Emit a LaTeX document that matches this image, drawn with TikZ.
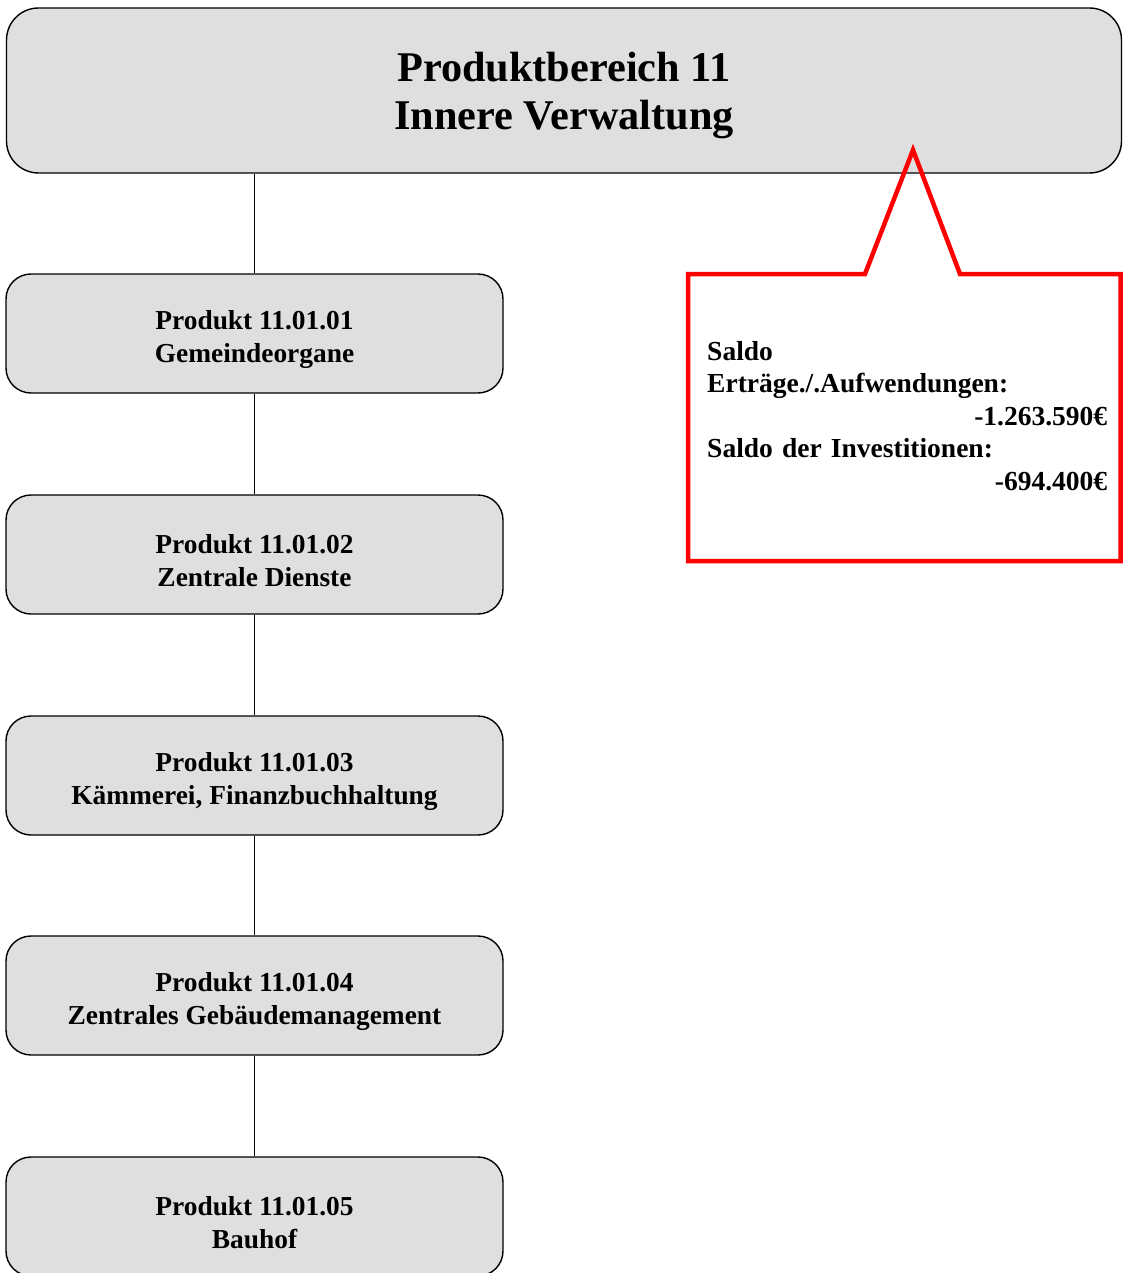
\documentclass[tikz,border=0pt]{standalone}
\usepackage{fontspec}
\setmainfont{Liberation Serif}
\definecolor{boxgray}{RGB}{223,223,223}
\definecolor{calloutred}{RGB}{255,0,0}
\begin{document}
\begin{tikzpicture}[x=1pt,y=-1pt,
  headbox/.style={draw=black, line width=1.4pt, fill=boxgray, rounded corners=32pt,
    minimum width=1115pt, minimum height=165pt},
  headtext/.style={align=center, inner sep=0pt,
    font=\fontsize{42.3}{48}\selectfont\bfseries},
  prodbox/.style={draw=black, line width=1.4pt, fill=boxgray, rounded corners=25pt,
    minimum width=497pt, minimum height=119pt},
  prodtext/.style={align=center, inner sep=0pt,
    font=\fontsize{27.4}{33}\selectfont\bfseries},
  link/.style={draw=black, line width=1.3pt},
  callout/.style={draw=calloutred, line width=4.5pt, miter limit=10},
  callouttext/.style={align=left, text width=400pt, inner sep=0pt,
    font=\fontsize{27.5}{32.5}\selectfont\bfseries}]
\useasboundingbox (0,0) rectangle (1123,1273);

% main area
\node[headbox] (head) at (564,90.5) {};
\node[headtext] (headlabel) at ([yshift=-5pt]head.center) {Produktbereich 11\\Innere Verwaltung};

% products
\node[prodbox] (p1) at (254.5,333.5)  {};
\node[prodbox] (p2) at (254.5,554.5)  {};
\node[prodbox] (p3) at (254.5,775.5)  {};
\node[prodbox] (p4) at (254.5,995.5)  {};
\node[prodbox] (p5) at (254.5,1216.5) {};
\node[prodtext] (p1label) at ([yshift=-6pt]p1.center) {Produkt 11.01.01\\Gemeindeorgane};
\node[prodtext] (p2label) at ([yshift=-6pt]p2.center) {Produkt 11.01.02\\Zentrale Dienste};
\node[prodtext] (p3label) at ([yshift=-6pt]p3.center) {Produkt 11.01.03\\Kämmerei, Finanzbuchhaltung};
\node[prodtext] (p4label) at ([yshift=-6pt]p4.center) {Produkt 11.01.04\\Zentrales Gebäudemanagement};
\node[prodtext] (p5label) at ([yshift=-6pt]p5.center) {Produkt 11.01.05\\Bauhof};

% vertical links
\draw[link] (p1.north |- head.south) -- (p1.north);
\draw[link] (p1.south) -- (p2.north);
\draw[link] (p2.south) -- (p3.north);
\draw[link] (p3.south) -- (p4.north);
\draw[link] (p4.south) -- (p5.north);

% speech bubble with the balances
\draw[callout] (688,274) -- (865,274) -- (913,150) -- (960,274) -- (1120.5,274)
  -- (1120.5,561) -- (688,561) -- cycle;
\node[callouttext, anchor=north west] (saldo) at (707,341)
  {Saldo\\
   Erträge./.Aufwendungen:\\
   \makebox[400pt][r]{-1.263.590€}\\
   Saldo der Investitionen:\\
   \makebox[400pt][r]{-694.400€}};
\end{tikzpicture}
\end{document}
